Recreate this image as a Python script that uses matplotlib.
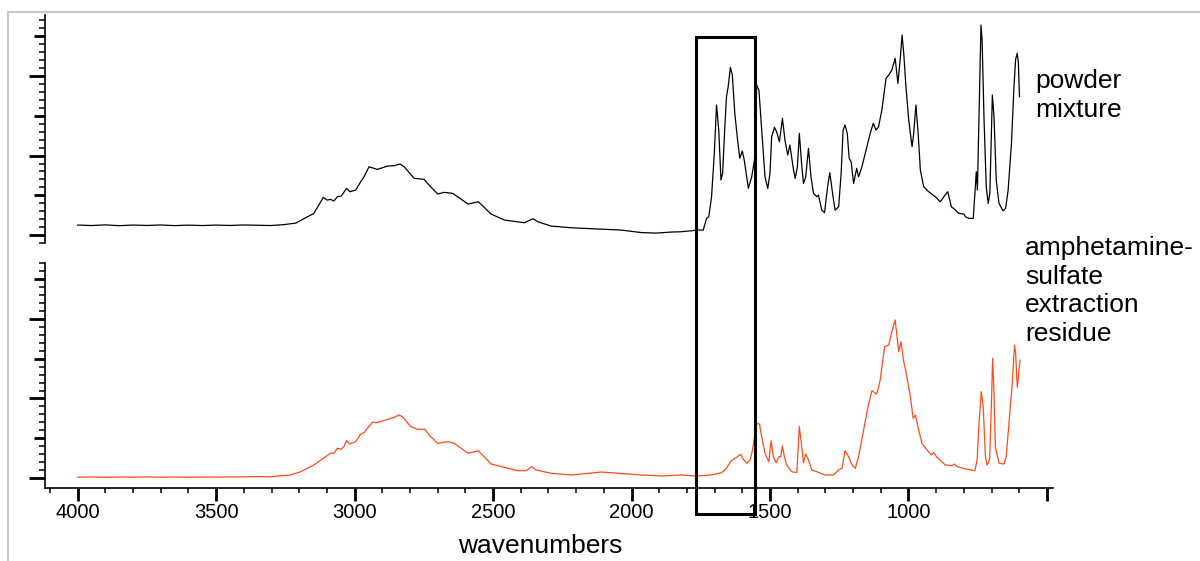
import numpy as np
import matplotlib
matplotlib.use("Agg")
import matplotlib.pyplot as plt
from matplotlib.patches import Rectangle
from matplotlib.lines import Line2D
from matplotlib.transforms import blended_transform_factory

plt.rcParams['font.family'] = ['Liberation Sans', 'DejaVu Sans']

# powder mixture (black trace)
mix_wn = [4000, 3950, 3900, 3850, 3800, 3750, 3700, 3650, 3600, 3550, 3500, 3450, 3400, 3350,
          3304, 3260, 3213, 3147, 3113, 3099, 3087, 3075, 3062, 3048, 3029, 3017, 2996, 2978,
          2966, 2948, 2918, 2881, 2857, 2836, 2821, 2785, 2749, 2737, 2700, 2677, 2646, 2590,
          2553, 2507, 2459, 2387, 2356, 2338, 2290, 2218, 2109, 2037, 1964, 1910, 1856, 1820,
          1783, 1765, 1741, 1729, 1721, 1711, 1701, 1693, 1685, 1677, 1671, 1663, 1657, 1651,
          1643, 1636, 1627, 1617, 1609, 1600, 1593, 1578, 1566, 1556, 1548, 1540, 1530, 1518,
          1508, 1500, 1494, 1484, 1476, 1466, 1455, 1446, 1436, 1428, 1415, 1409, 1401, 1394,
          1385, 1379, 1371, 1361, 1352, 1343, 1331, 1325, 1313, 1303, 1292, 1284, 1274, 1265,
          1252, 1243, 1236, 1229, 1221, 1214, 1207, 1198, 1187, 1180, 1168, 1150, 1138, 1127,
          1117, 1108, 1096, 1081, 1071, 1060, 1048, 1038, 1029, 1023, 1017, 1009, 999, 987,
          981, 973, 965, 957, 945, 927, 903, 885, 872, 858, 845, 830, 818, 800, 794, 782, 766,
          760, 755, 751, 743, 738, 734, 727, 719, 712, 706, 697, 691, 683, 673, 659, 649, 640,
          628, 619, 613, 607, 603, 599]
mix_abs = [0.126, 0.120, 0.128, 0.118, 0.126, 0.121, 0.127, 0.119, 0.125, 0.120, 0.126, 0.121, 0.127, 0.124,
           0.120, 0.130, 0.150, 0.273, 0.474, 0.440, 0.449, 0.428, 0.482, 0.491, 0.587, 0.545, 0.566, 0.670,
           0.733, 0.859, 0.826, 0.868, 0.872, 0.893, 0.859, 0.713, 0.701, 0.650, 0.516, 0.537, 0.525, 0.390,
           0.419, 0.264, 0.189, 0.155, 0.205, 0.167, 0.113, 0.092, 0.075, 0.063, 0.031, 0.025, 0.038, 0.042,
           0.054, 0.063, 0.063, 0.210, 0.230, 0.482, 1.028, 1.635, 1.321, 0.692, 0.776, 1.362, 1.740, 1.865,
           2.109, 2.013, 1.531, 1.195, 0.965, 1.057, 0.943, 0.587, 0.733, 0.943, 1.887, 1.824, 1.321, 0.733,
           0.587, 0.776, 1.236, 1.355, 1.299, 1.174, 1.468, 1.195, 1.006, 1.132, 0.818, 0.713, 0.859, 1.279,
           0.859, 0.650, 0.733, 1.091, 0.733, 0.525, 0.482, 0.503, 0.314, 0.281, 0.608, 0.784, 0.525, 0.314,
           0.356, 0.776, 1.321, 1.384, 1.279, 0.965, 0.922, 0.650, 0.839, 0.733, 0.859, 1.111, 1.279, 1.405,
           1.321, 1.362, 1.572, 1.971, 2.013, 2.075, 2.223, 1.908, 2.243, 2.516, 2.286, 1.865, 1.447, 1.111,
           1.279, 1.635, 1.279, 0.818, 0.608, 0.545, 0.482, 0.419, 0.482, 0.545, 0.356, 0.314, 0.273, 0.264,
           0.230, 0.210, 0.210, 0.525, 0.796, 0.566, 1.865, 2.642, 2.453, 1.447, 0.608, 0.399, 0.525, 1.761,
           1.488, 0.692, 0.399, 0.306, 0.336, 0.566, 1.153, 1.865, 2.210, 2.286, 2.160, 1.740]

# amphetamine-sulfate extraction residue (orange trace)
res_wn = [4000, 3950, 3900, 3850, 3800, 3750, 3700, 3650, 3600, 3550, 3500, 3450, 3400, 3350,
          3304, 3231, 3195, 3147, 3105, 3087, 3075, 3062, 3048, 3039, 3029, 3017, 2996, 2978,
          2966, 2936, 2918, 2881, 2857, 2839, 2827, 2797, 2773, 2746, 2731, 2700, 2664, 2640,
          2590, 2553, 2507, 2459, 2411, 2381, 2360, 2345, 2290, 2218, 2109, 2037, 1964, 1892,
          1820, 1772, 1711, 1675, 1657, 1641, 1621, 1606, 1596, 1584, 1572, 1563, 1554, 1547,
          1538, 1530, 1518, 1504, 1496, 1488, 1478, 1467, 1461, 1455, 1448, 1440, 1421, 1403,
          1394, 1388, 1379, 1371, 1361, 1349, 1331, 1301, 1271, 1252, 1240, 1229, 1216, 1204,
          1192, 1180, 1162, 1146, 1132, 1114, 1102, 1086, 1071, 1060, 1048, 1035, 1027, 1017,
          1009, 993, 983, 975, 963, 951, 933, 917, 909, 897, 867, 842, 834, 824, 794, 760, 752,
          746, 737, 730, 722, 716, 707, 700, 696, 691, 686, 673, 655, 647, 635, 625, 617, 613,
          607, 597]
res_abs = [0.010, 0.013, 0.008, 0.012, 0.010, 0.014, 0.010, 0.012, 0.009, 0.012, 0.011, 0.014, 0.015, 0.018,
           0.015, 0.038, 0.079, 0.164, 0.268, 0.311, 0.311, 0.374, 0.361, 0.394, 0.469, 0.428, 0.457, 0.553,
           0.570, 0.701, 0.696, 0.738, 0.764, 0.792, 0.771, 0.645, 0.613, 0.613, 0.541, 0.436, 0.457, 0.436,
           0.311, 0.343, 0.176, 0.135, 0.092, 0.092, 0.142, 0.101, 0.059, 0.038, 0.075, 0.057, 0.038, 0.025,
           0.038, 0.025, 0.038, 0.067, 0.122, 0.214, 0.260, 0.298, 0.235, 0.185, 0.226, 0.352, 0.562, 0.688,
           0.679, 0.519, 0.311, 0.205, 0.469, 0.268, 0.192, 0.268, 0.268, 0.403, 0.268, 0.164, 0.079, 0.067,
           0.645, 0.478, 0.192, 0.302, 0.226, 0.101, 0.079, 0.038, 0.038, 0.101, 0.122, 0.343, 0.268, 0.164,
           0.122, 0.268, 0.604, 0.897, 1.098, 1.057, 1.233, 1.652, 1.673, 1.840, 1.987, 1.589, 1.714, 1.463,
           1.337, 1.023, 0.751, 0.792, 0.604, 0.436, 0.352, 0.289, 0.318, 0.260, 0.164, 0.155, 0.176, 0.142,
           0.113, 0.092, 0.226, 0.645, 1.086, 0.897, 0.268, 0.164, 0.226, 0.981, 1.506, 1.065, 0.394, 0.185,
           0.176, 0.268, 0.771, 1.191, 1.673, 1.572, 1.141, 1.484]

x_major = [4000, 3500, 3000, 2500, 2000, 1500, 1000, 500]
x_labels = ['4000', '3500', '3000', '2500', '2000', '1500', '1000', '']
box_range = (1768, 1555)
label_mix = 'powder\nmixture'
label_res = 'amphetamine-\nsulfate\nextraction\nresidue'

fig = plt.figure(figsize=(12, 5.61), dpi=100)
ax_top = fig.add_axes([0.0375, 0.5668, 0.84, 0.4064])
ax_bot = fig.add_axes([0.0375, 0.1301, 0.84, 0.4011], sharex=ax_top)

ax_top.plot(mix_wn, mix_abs, color='black', lw=0.9)
ax_bot.plot(res_wn, res_abs, color='#ff4a1c', lw=0.9)
ax_bot.set_xlim(4118, 478)


def style_y(ax, lo, hi, minor_start):
    ax.set_ylim(lo, hi)
    major = np.arange(0, 3.0, 0.5)
    ax.set_yticks(major)
    ax.set_yticks(np.arange(minor_start, hi, 0.1), minor=True)
    ax.tick_params(axis='y', which='both', direction='out', labelleft=False)
    ax.tick_params(axis='y', which='major', width=2.0)
    ax.tick_params(axis='y', which='minor', length=4.3, width=1.1)
    # long ticks on whole units, medium on halves
    for v, t in zip(major, ax.yaxis.get_major_ticks()):
        t.tick1line.set_markersize(11.5 if float(v).is_integer() else 8)
    for s in ['top', 'right']:
        ax.spines[s].set_visible(False)
    ax.spines['left'].set_linewidth(1.2)


style_y(ax_top, -0.1, 2.767, -0.1)
style_y(ax_bot, -0.126, 2.704, 0.0)

ax_top.spines['bottom'].set_visible(False)
ax_top.tick_params(axis='x', which='both', bottom=False, labelbottom=False)

ax_bot.set_xticks(x_major, x_labels)
ax_bot.set_xticks(np.arange(500, 4101, 100), minor=True)
ax_bot.tick_params(axis='x', which='major', direction='out', length=9.4, width=2.0,
                   labelsize=14.5, pad=1.5)
ax_bot.tick_params(axis='x', which='minor', direction='out', length=3.5, width=1.1)
ax_bot.spines['bottom'].set_linewidth(1.2)

fig.text(540 / 1200, 1 - 553 / 561, 'wavenumbers', fontsize=19, ha='center', va='baseline')
fig.text(1035 / 1200, 1 - 69 / 561, label_mix, fontsize=19, va='top', linespacing=1.25)
fig.text(1025 / 1200, 1 - 236 / 561, label_res, fontsize=19, va='top', linespacing=1.25)

# highlight box across both panels
trans = blended_transform_factory(ax_bot.transData, fig.transFigure)
box = Rectangle((box_range[1], 1 - 514 / 561), box_range[0] - box_range[1], (514 - 37) / 561,
                fill=False, ec='black', lw=2.2, transform=trans, clip_on=False, zorder=10)
fig.add_artist(box)

# light grey frame edges
fig.add_artist(Line2D([8 / 1200, 1], [1 - 12 / 561] * 2, color='#c8c8c8', lw=1.5,
                      transform=fig.transFigure))
fig.add_artist(Line2D([8 / 1200] * 2, [0, 1 - 12 / 561], color='#c8c8c8', lw=1.5,
                      transform=fig.transFigure))

fig.savefig('out.png', dpi=100)
